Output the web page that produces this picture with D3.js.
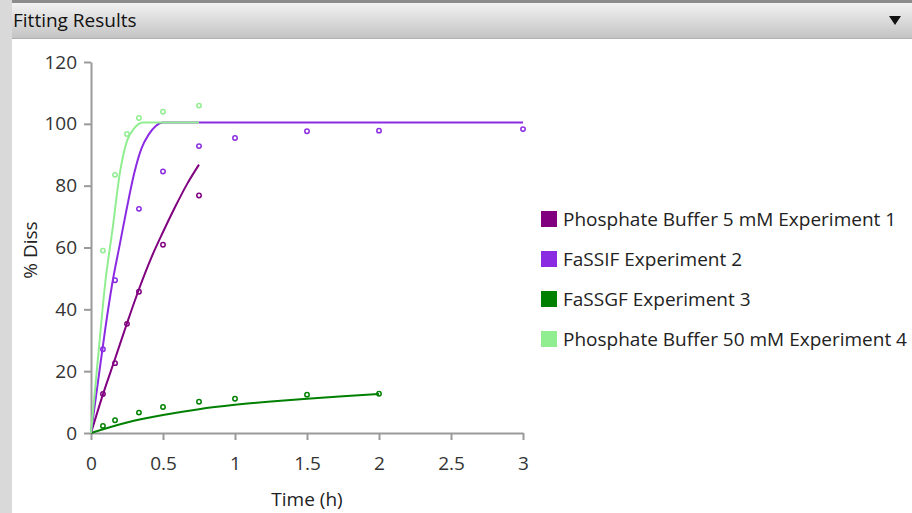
<!DOCTYPE html>
<html><head><meta charset="utf-8">
<script src="https://cdn.jsdelivr.net/npm/d3@7"></script>
<style>
html,body{margin:0;padding:0;background:#fff;}
svg{display:block;font-family:"Segoe UI","Open Sans","Noto Sans",sans-serif;}
</style></head>
<body>
<svg id="c" width="912" height="513"></svg>
<script>
// ---- data ----
const seriesNames = ["Phosphate Buffer 5 mM Experiment 1","FaSSIF Experiment 2","FaSSGF Experiment 3","Phosphate Buffer 50 mM Experiment 4"];
const seriesColors = ["#800080","#8a2be2","#008000","#90ee90"];

// observed points
const obs1T = [0.083,0.167,0.25,0.333,0.5,0.75];
const obs1V = [12.6,22.6,35.3,45.7,60.9,76.8];
const obs2T = [0.083,0.167,0.333,0.5,0.75,1,1.5,2,3];
const obs2V = [27.1,49.4,72.5,84.6,92.8,95.4,97.6,97.8,98.3];
const obs3T = [0.083,0.167,0.333,0.5,0.75,1,1.5,2];
const obs3V = [2.3,4.1,6.6,8.4,10.1,11.1,12.4,12.7];
const obs4T = [0.083,0.167,0.25,0.333,0.5,0.75];
const obs4V = [59,83.5,96.7,101.9,103.9,105.9];

// fitted curves
const fit1T = [0,0.083,0.167,0.25,0.333,0.417,0.5,0.583,0.667,0.75];
const fit1V = [0,12.5,24,35.5,46.5,56.5,65,73,80.5,86.8];
const fit2T = [0,0.05,0.1,0.15,0.2,0.25,0.3,0.35,0.4,0.45,0.5,3];
const fit2V = [0,17,34,49,61,73,84,92,96.5,99.3,100.4,100.4];
const fit3T = [0,0.25,0.5,0.75,1,1.25,1.5,1.75,2];
const fit3V = [0,3.4,5.8,7.7,9.1,10.2,11.1,11.9,12.6];
const fit4T = [0,0.05,0.1,0.15,0.2,0.25,0.3,0.36,0.75];
const fit4V = [0,25,49,66,84,94.5,98.5,100.4,100.4];

const xTicks = [0,0.5,1,1.5,2,2.5,3];
const yTicks = [0,20,40,60,80,100,120];

const obs = [[obs1T,obs1V],[obs2T,obs2V],[obs3T,obs3V],[obs4T,obs4V]];
const fits = [[fit1T,fit1V],[fit2T,fit2V],[fit3T,fit3V],[fit4T,fit4V]];

const FS = 19;
const svg = d3.select("#c");

// panel chrome
const defs = svg.append("defs");
const g = defs.append("linearGradient").attr("id","hdr").attr("x1",0).attr("y1",0).attr("x2",0).attr("y2",1);
g.append("stop").attr("offset","0%").attr("stop-color","#f2f2f2");
g.append("stop").attr("offset","100%").attr("stop-color","#c4c4c4");
svg.append("rect").attr("x",0).attr("y",0).attr("width",912).attr("height",513).attr("fill","#fff");
svg.append("rect").attr("x",0).attr("y",0).attr("width",12).attr("height",513).attr("fill","#d9d9d9");
svg.append("rect").attr("x",12).attr("y",0).attr("width",900).attr("height",3).attr("fill","#8c8c8c");
svg.append("rect").attr("x",12).attr("y",3).attr("width",900).attr("height",35).attr("fill","url(#hdr)");
svg.append("rect").attr("x",12).attr("y",38).attr("width",900).attr("height",1).attr("fill","#b0b0b0");
svg.append("text").attr("x",13).attr("y",27).attr("font-size",FS).attr("fill","#111").text("Fitting Results");
svg.append("path").attr("d","M889,16 L901,16 L895,25 Z").attr("fill","#111");

// scales
const x = d3.scaleLinear().domain([0,3]).range([91,523]);
const y = d3.scaleLinear().domain([0,120]).range([433,62]);

const axisColor = "#9a9a9a";
const xa = svg.append("g").attr("transform","translate(0,433)")
  .call(d3.axisBottom(x).tickValues(xTicks).tickSize(7).tickSizeOuter(0).tickPadding(17).tickFormat(d3.format("")));
const ya = svg.append("g").attr("transform","translate(91,0)")
  .call(d3.axisLeft(y).tickValues(yTicks).tickSize(7).tickSizeOuter(0).tickPadding(7));
[xa,ya].forEach(a=>{
  a.selectAll("path,line").attr("stroke",axisColor).attr("stroke-width",2);
  a.selectAll("text").attr("font-size",FS).attr("fill","#333").attr("font-family",'"Segoe UI","Open Sans","Noto Sans",sans-serif');
});

svg.append("text").attr("x",307).attr("y",506).attr("text-anchor","middle").attr("font-size",FS).attr("fill","#222").text("Time (h)");
svg.append("text").attr("transform","translate(37,250) rotate(-90)").attr("text-anchor","middle").attr("font-size",FS).attr("fill","#222").text("% Diss");

// lines
const line = d3.line().x(d=>x(d[0])).y(d=>y(d[1])).curve(d3.curveMonotoneX);
const drawOrder = [2,0,1,3];
drawOrder.forEach(i=>{
  const [ts,vs] = fits[i];
  svg.append("path").datum(ts.map((t,k)=>[t,vs[k]]))
    .attr("d",line).attr("fill","none").attr("stroke",seriesColors[i]).attr("stroke-width",2);
});
drawOrder.forEach(i=>{
  const [ts,vs] = obs[i];
  svg.append("g").selectAll("circle").data(ts.map((t,k)=>[t,vs[k]])).join("circle")
    .attr("cx",d=>x(d[0])).attr("cy",d=>y(d[1])).attr("r",2.2)
    .attr("fill","none").attr("stroke",seriesColors[i]).attr("stroke-width",1.5);
});

// legend
const lg = svg.append("g").attr("transform","translate(541,211)");
seriesNames.forEach((n,i)=>{
  lg.append("rect").attr("x",0).attr("y",i*40).attr("width",16).attr("height",16).attr("fill",seriesColors[i]);
  lg.append("text").attr("x",22).attr("y",i*40+15).attr("font-size",FS).attr("fill","#222").text(n);
});
</script>
</body></html>
